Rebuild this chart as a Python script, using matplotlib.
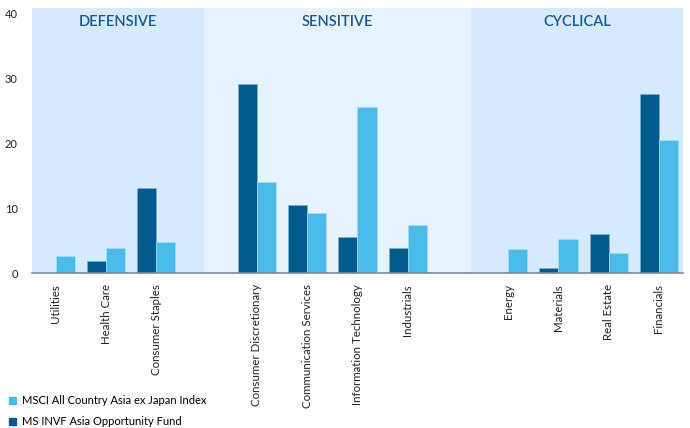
import numpy as np
import matplotlib
matplotlib.use('Agg')
import matplotlib.pyplot as plt
from matplotlib.patches import Patch

plt.rcParams['font.family'] = ['Lato', 'DejaVu Sans']

sectors = ['Utilities', 'Health Care', 'Consumer Staples',
           'Consumer Discretionary', 'Communication Services', 'Information Technology', 'Industrials',
           'Energy', 'Materials', 'Real Estate', 'Financials']
fund = [0.0, 1.8, 13.1, 29.2, 10.5, 5.6, 3.8, 0.0, 0.8, 6.1, 27.7]
index = [2.6, 3.9, 4.8, 14.0, 9.2, 25.6, 7.4, 3.7, 5.2, 3.1, 20.6]
groups = ['DEFENSIVE', 'SENSITIVE', 'CYCLICAL']
group_sizes = [3, 4, 4]
fund_name = 'MS INVF Asia Opportunity Fund'
index_name = 'MSCI All Country Asia ex Japan Index'

dark = '#005b8f'
light = '#4bbbea'
panel_cols = ['#d5eafc', '#e6f3fe', '#d5eafc']
title_col = '#1b5a8c'

# slot positions, one empty slot between groups
pos = []
start = 0
for n in group_sizes:
    pos += list(range(start, start + n))
    start += n + 1
pos = np.array(pos, dtype=float)

fig = plt.figure(figsize=(6.9, 4.28), dpi=100)
ax = fig.add_axes([0.046, 0.362, 0.944, 0.619])

# background panels
edges = [-0.48, 2.95, 8.26, 12.48]
for i, g in enumerate(groups):
    ax.axvspan(edges[i], edges[i + 1], color=panel_cols[i], zorder=0, lw=0)
    ax.text((edges[i] + edges[i + 1]) / 2, 38.7, g, ha='center', va='center',
            fontsize=10.5, color=title_col, fontweight='semibold')

w = 0.38
ax.bar(pos - w / 2, fund, w, color=dark, edgecolor='#7fb0cf', linewidth=0.5, zorder=2)
ax.bar(pos + w / 2, index, w, color=light, edgecolor='#a9dcf3', linewidth=0.5, zorder=2)

ax.set_xlim(-0.48, 12.48)
ax.set_ylim(0, 40.9)
ax.set_yticks([0, 10, 20, 30, 40])
ax.set_xticks(pos)
ax.set_xticklabels(sectors, rotation=90, fontsize=8.3, color='#222222')
ax.tick_params(axis='x', length=0, pad=8)
ax.tick_params(axis='y', length=0, pad=10, labelsize=8, colors='#222222')
for s in ['top', 'right', 'left']:
    ax.spines[s].set_visible(False)
ax.spines['bottom'].set_color('#7f8a96')
ax.spines['bottom'].set_linewidth(1.2)
ax.spines['bottom'].set_zorder(3)

handles = [Patch(color=light, label=index_name), Patch(color=dark, label=fund_name)]
fig.legend(handles=handles, loc='lower left', bbox_to_anchor=(-0.002, -0.022), frameon=False,
           fontsize=8, handlelength=0.7, handleheight=0.7, handletextpad=0.5,
           labelspacing=0.9)

fig.savefig('out.png', dpi=100)
